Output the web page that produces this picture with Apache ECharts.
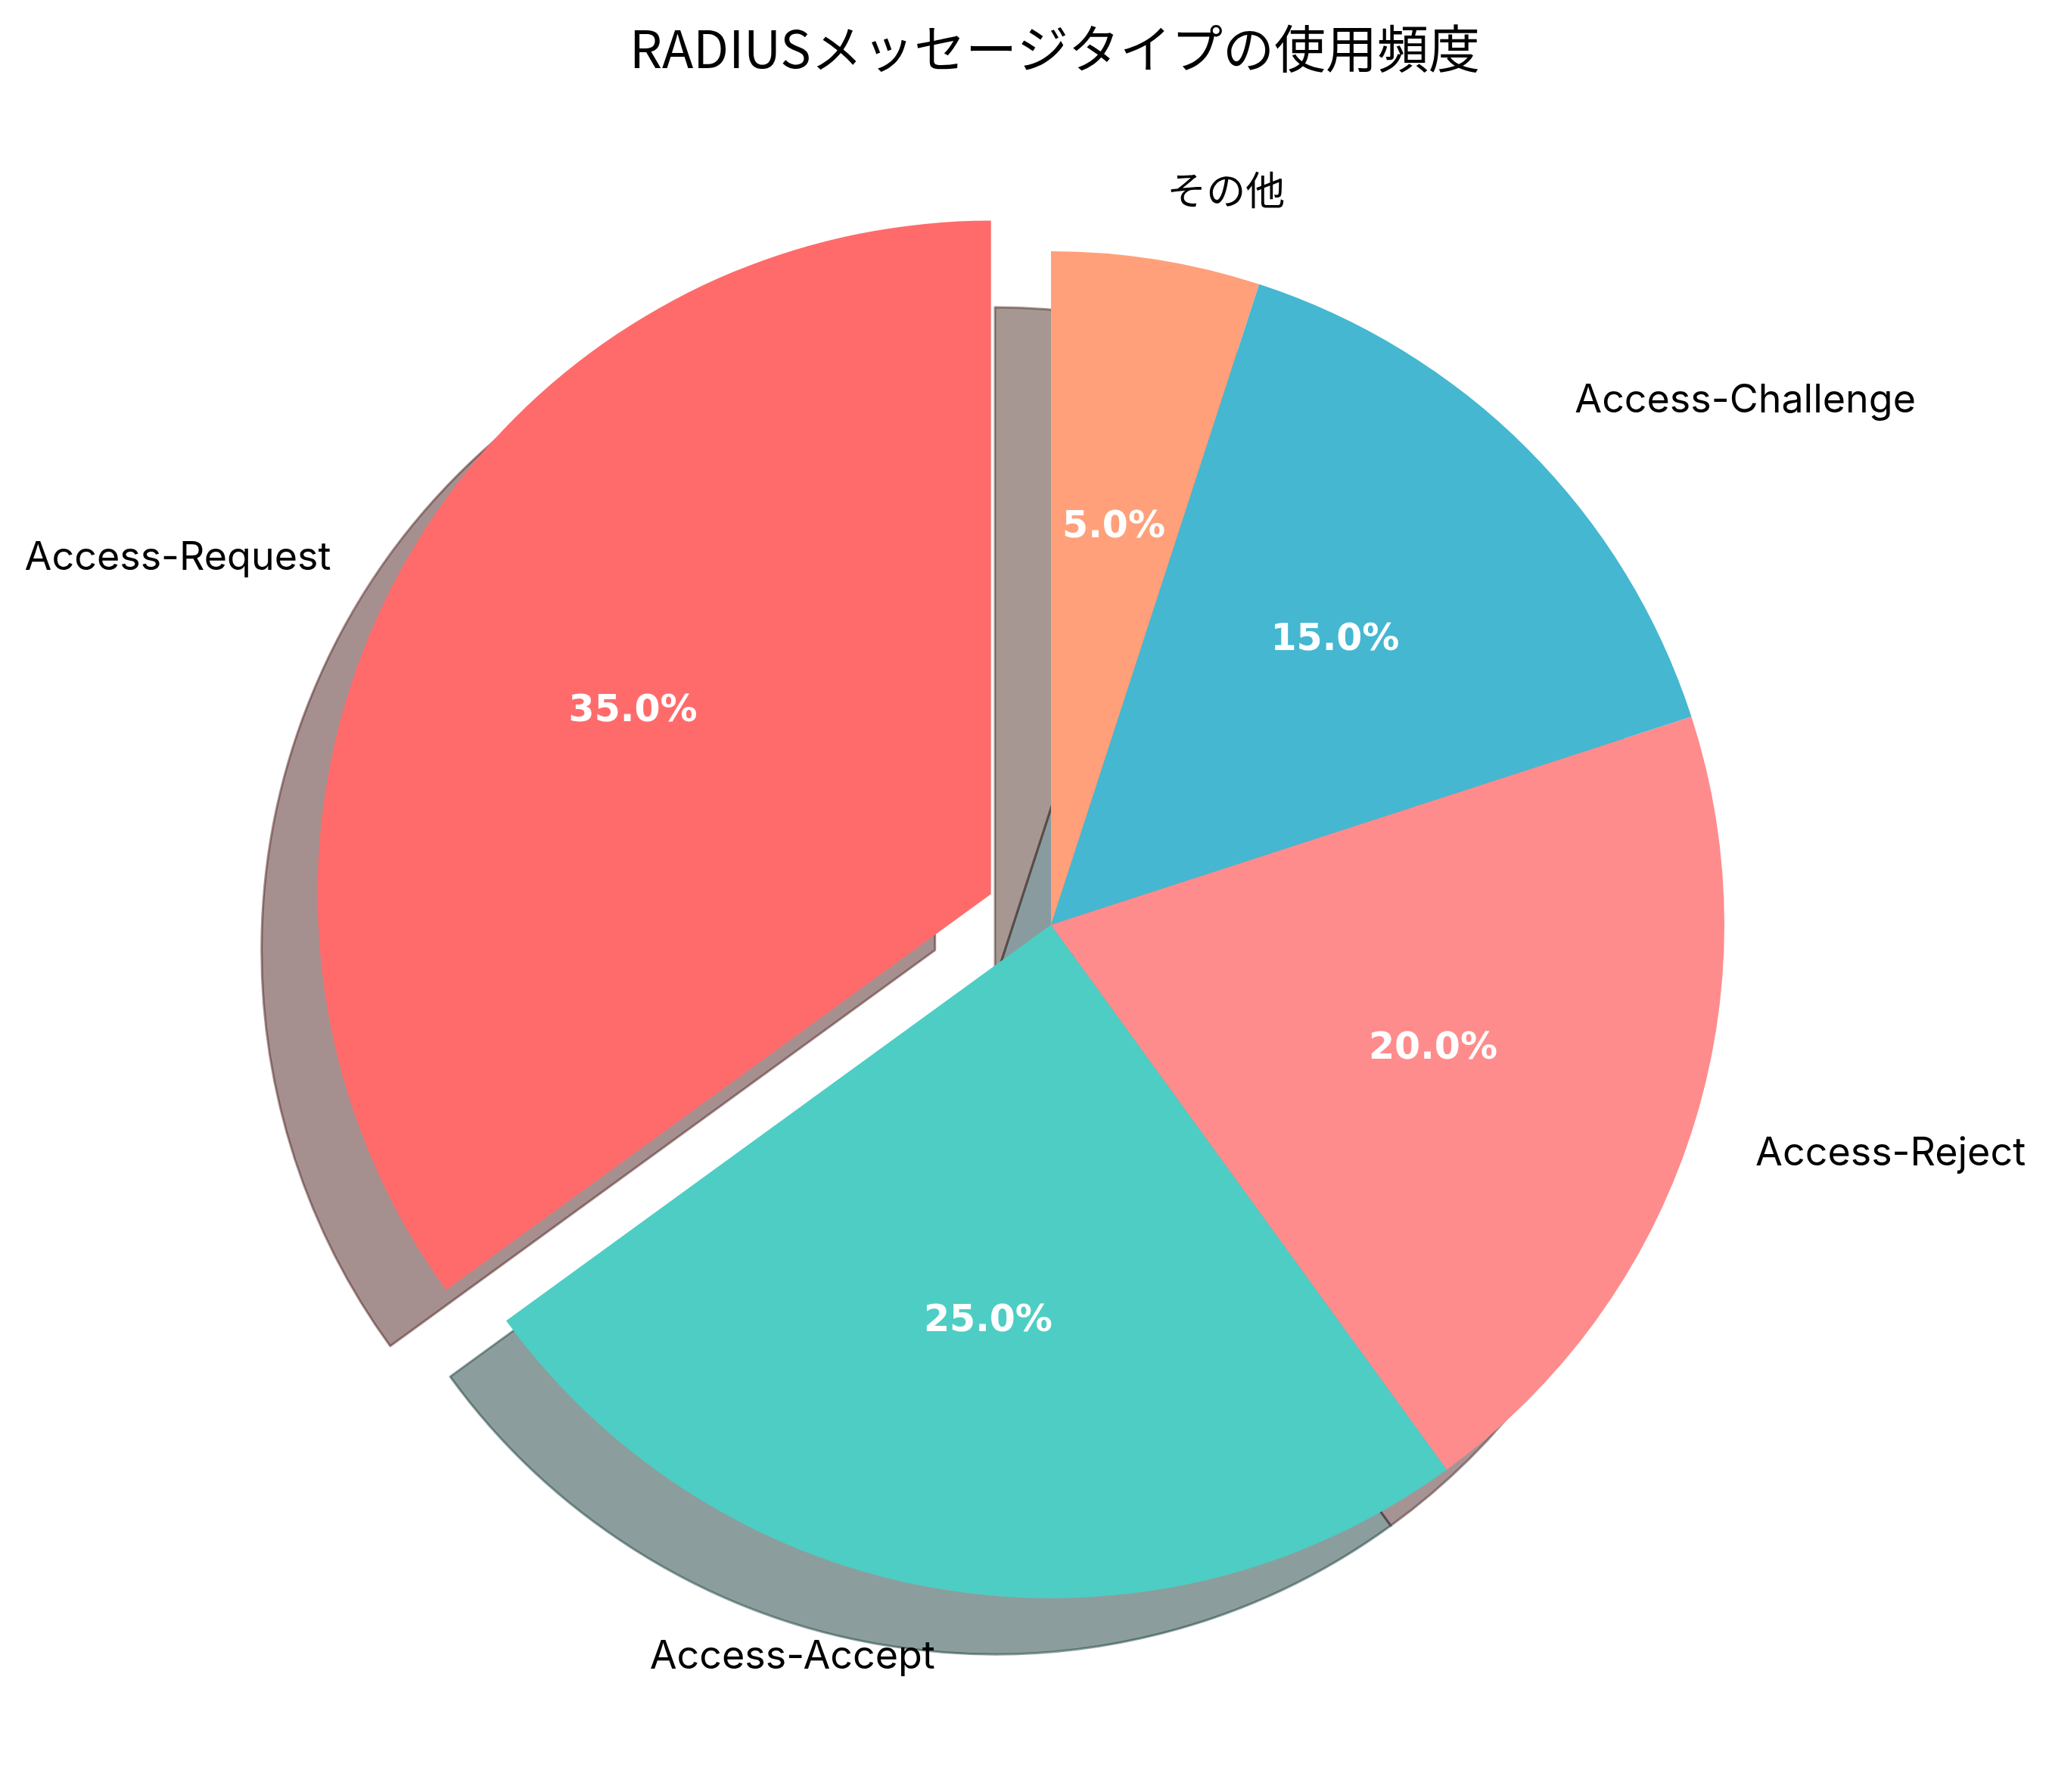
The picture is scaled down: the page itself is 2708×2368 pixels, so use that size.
<!DOCTYPE html>
<html>
<head>
<meta charset="utf-8">
<script src="https://cdn.jsdelivr.net/npm/echarts@6/dist/echarts.min.js"></script>
<style>
html,body{margin:0;padding:0;background:#fff;}
#chart{width:2708px;height:2368px;}
</style>
</head>
<body>
<div id="chart"></div>
<script>
// ---- data ----
const titleText = 'RADIUSメッセージタイプの使用頻度';
const categories = ['Access-Request', 'Access-Accept', 'Access-Reject', 'Access-Challenge', 'その他'];
const values = [35, 25, 20, 15, 5];
const explodedIndex = [0];

// ---- styles ----
const colors = ['#FF6B6B', '#4ECDC4', '#FF8C8C', '#45B7D1', '#FFA07A'];
const CX = 1389, CY = 1222, R = 890;
const EXPLODE = 0.1 * R;
const SHADOW_DX = -74, SHADOW_DY = 74;

function shade(hex) {
  const n = parseInt(hex.slice(1), 16);
  const r = Math.round(((n >> 16) & 255) * 0.3);
  const g = Math.round(((n >> 8) & 255) * 0.3);
  const b = Math.round((n & 255) * 0.3);
  return 'rgba(' + r + ',' + g + ',' + b + ',0.5)';
}

function build(kind) {
  return categories.map((name, i) => {
    const item = { name: name, value: values[i], selected: explodedIndex.includes(i) };
    if (kind === 'main') {
      item.itemStyle = { color: colors[i] };
    } else if (kind === 'shadow') {
      item.itemStyle = { color: shade(colors[i]), borderColor: shade(colors[i]), borderWidth: 3 };
    } else {
      item.itemStyle = { color: 'rgba(0,0,0,0)' };
    }
    return item;
  });
}

const chart = echarts.init(document.getElementById('chart'), null, { renderer: 'canvas' });
const common = {
  type: 'pie',
  startAngle: 90,
  clockwise: false,
  selectedMode: 'multiple',
  selectedOffset: EXPLODE,
  avoidLabelOverlap: false,
  animation: false,
  silent: true,
  emphasis: { disabled: true },
  select: { disabled: false, itemStyle: {} }
};

chart.setOption({
  backgroundColor: '#ffffff',
  animation: false,
  title: {
    text: titleText,
    left: CX,
    textAlign: 'center',
    top: 25,
    textStyle: { fontFamily: "'Noto Sans CJK JP', 'Noto Sans'", fontSize: 68, fontWeight: 'normal', color: '#000' }
  },
  series: [
    Object.assign({}, common, {
      name: 'shadow',
      z: 1,
      center: [CX + SHADOW_DX, CY + SHADOW_DY],
      radius: [0, R],
      label: { show: false },
      labelLine: { show: false },
      data: build('shadow')
    }),
    Object.assign({}, common, {
      name: 'main',
      z: 2,
      center: [CX, CY],
      radius: [0, R],
      label: {
        show: true,
        position: 'outside',
        formatter: '{b}',
        fontFamily: "Inter, 'Noto Sans CJK JP'",
        fontSize: 52,
        color: '#000',
        distanceToLabelLine: 0
      },
      labelLine: { show: false, length: EXPLODE, length2: 0 },
      data: build('main')
    }),
    Object.assign({}, common, {
      name: 'pct',
      z: 3,
      center: [CX, CY],
      radius: [0.2 * R - 6, R - 6],
      label: {
        show: true,
        position: 'inside',
        formatter: p => p.percent.toFixed(1) + '%',
        fontFamily: "'DejaVu Sans'",
        fontWeight: 'bold',
        fontSize: 49,
        color: '#ffffff'
      },
      labelLine: { show: false },
      data: build('pct')
    })
  ]
});
</script>
</body>
</html>
